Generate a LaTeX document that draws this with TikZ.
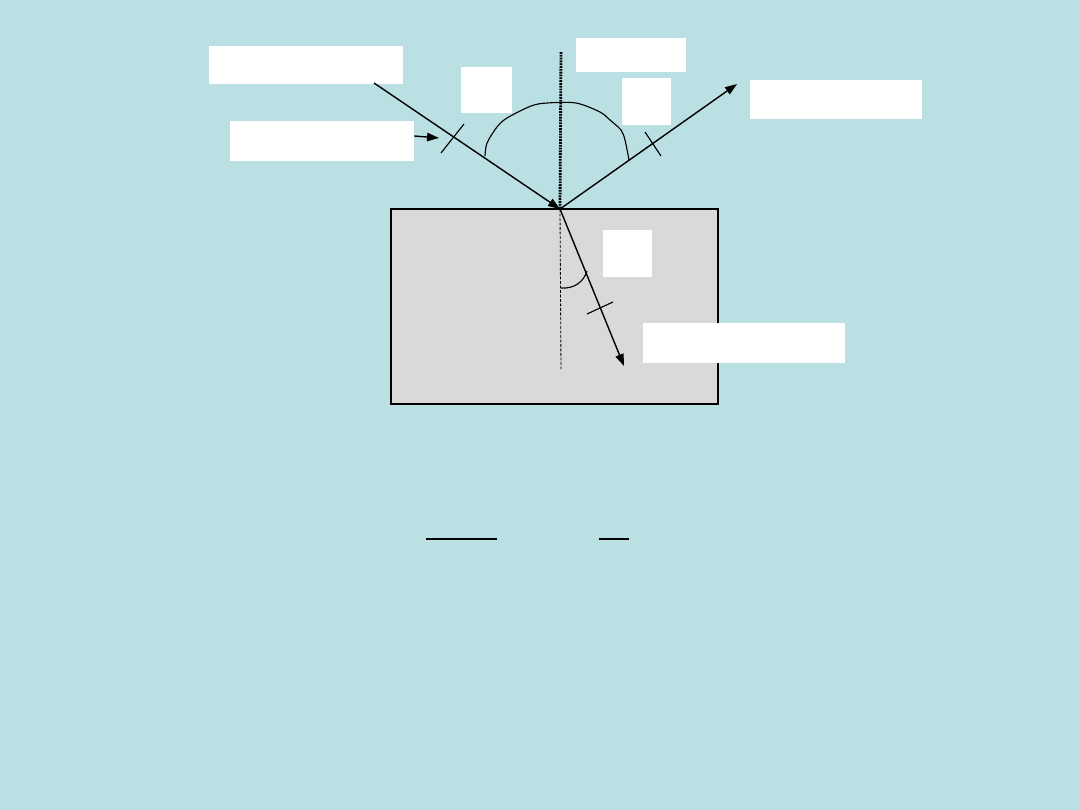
\documentclass[tikz,border=0pt]{standalone}
\usetikzlibrary{arrows.meta}
\definecolor{bgblue}{HTML}{BBE0E3}
\definecolor{glassgrey}{HTML}{D9D9D9}
\tikzset{
  labelbox/.style={fill=white,inner sep=0pt},
  ray/.style={line width=1pt,-{Triangle[length=8.5pt,width=6pt]}},
  tickmark/.style={line width=0.8pt},
  normalline/.style={line width=2pt,dash pattern=on 1.3pt off 0.7pt},
  normalinside/.style={line width=0.6pt,dash pattern=on 2pt off 1.2pt}
}
\begin{document}
\begin{tikzpicture}[x=0.025cm,y=-0.025cm]
  \fill[bgblue] (0,0) rectangle (1080,810);
  \draw[fill=glassgrey,line width=1.3pt] (391,209) rectangle (718,404);
  \node[labelbox,minimum width=4.85cm,minimum height=0.95cm] (incname) at (306,65) {};
  \node[labelbox,minimum width=4.6cm,minimum height=1cm] (incray) at (322,141) {};
  \node[labelbox,minimum width=1.275cm,minimum height=1.15cm] (angi) at (486.5,90) {};
  \node[labelbox,minimum width=2.75cm,minimum height=0.85cm] (normname) at (631,55) {};
  \node[labelbox,minimum width=1.225cm,minimum height=1.175cm] (angref) at (646.5,101.5) {};
  \node[labelbox,minimum width=4.3cm,minimum height=0.975cm] (refname) at (836,99.5) {};
  \node[labelbox,minimum width=1.225cm,minimum height=1.175cm] (angr) at (627.5,253.5) {};
  \node[labelbox,minimum width=5.05cm,minimum height=1cm] (refrname) at (744,343) {};
  \coordinate (O) at (560,209);
  \coordinate (S) at (374,83);
  \coordinate (R) at (737,84);
  \coordinate (T) at (624,366);
  \coordinate (N) at (561,52);
  \coordinate (B) at (561,369);
  \coordinate (P) at (439,138);
  \draw[normalline] (N) -- (O);
  \draw[normalinside] (O) -- (B);
  \draw[ray] (S) -- (O);
  \draw[ray] (O) -- (R);
  \draw[ray] (O) -- (T);
  \draw[ray] ([yshift=0.125cm]incray.east) -- (P);
  \draw[tickmark] (441,153) -- (464,124);
  \draw[tickmark] (645,132) -- (661,156);
  \draw[tickmark] (587,314) -- (613,302);
  \draw[tickmark] plot[smooth] coordinates {(485,156) (487,143) (497,127) (507,118) (531,106) (547,103) (576,103) (600,112) (610,120) (621,130) (625,140) (629,160)};
  \draw[tickmark] (561,288) .. controls (575,289) and (584,281) .. (587,271);
  \draw[line width=1.2pt] (426,539) -- (497,539);
  \draw[line width=1.2pt] (599,539) -- (629,539);
\end{tikzpicture}
\end{document}
